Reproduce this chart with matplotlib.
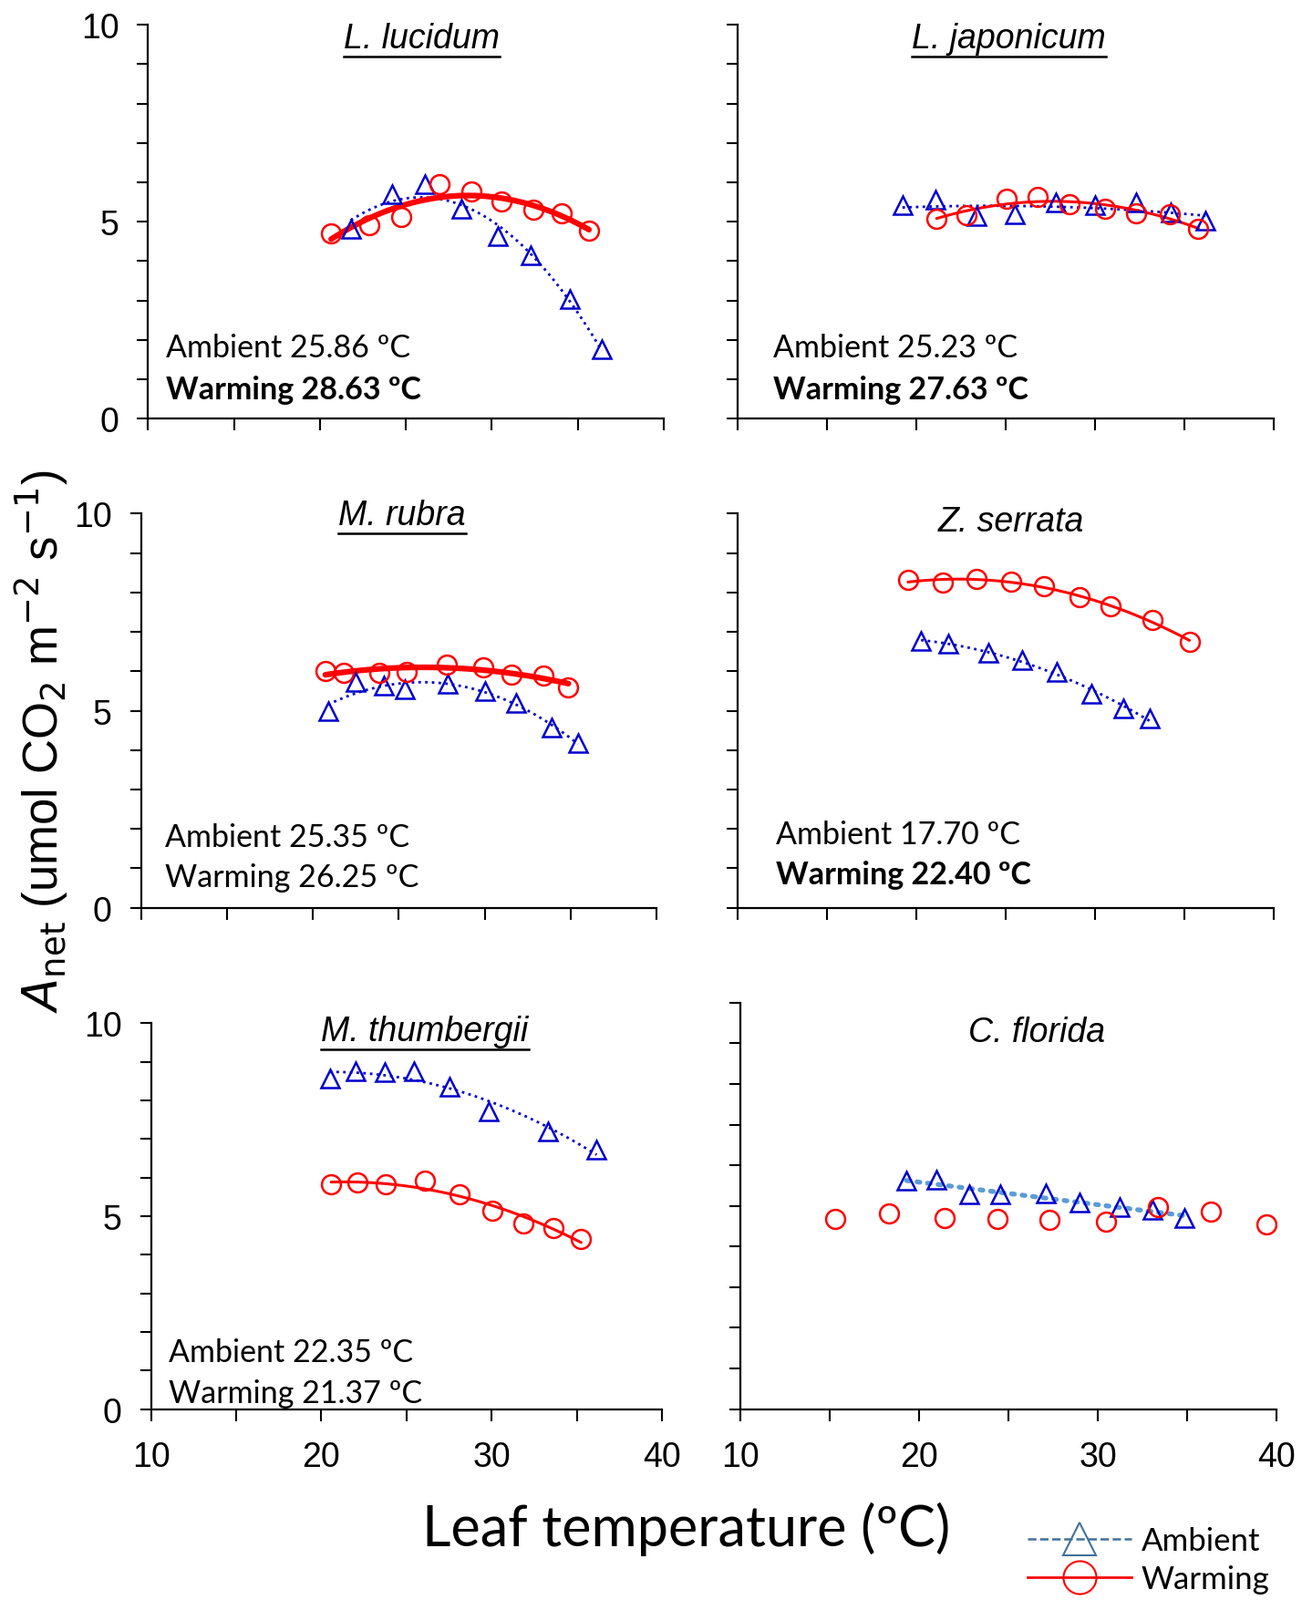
import numpy as np
import matplotlib.pyplot as plt
from matplotlib.lines import Line2D
from matplotlib.ticker import MultipleLocator

# panel names, in reading order
species = ['L. lucidum', 'L. japonicum', 'M. rubra', 'Z. serrata', 'M. thumbergii', 'C. florida']
underlined = [True, True, True, False, True, False]

# ambient (triangles)
amb_t = [
    [21.8, 24.2, 26.1, 28.2, 30.35, 32.25, 34.55, 36.4],
    [19.24, 21.1, 23.4, 25.5, 27.8, 30.0, 32.3, 34.25, 36.2],
    [20.88, 22.49, 24.15, 25.35, 27.86, 30.0, 31.8, 33.87, 35.43],
    [20.28, 21.78, 24.07, 25.93, 27.89, 29.8, 31.59, 33.09],
    [20.49, 22.01, 23.75, 25.42, 27.55, 29.85, 33.29, 36.17],
    [19.3, 20.96, 22.79, 24.54, 27.1, 28.98, 31.2, 33.06, 34.83],
]
amb_a = [
    [4.83, 5.69, 5.96, 5.32, 4.63, 4.15, 3.04, 1.77],
    [5.41, 5.55, 5.15, 5.19, 5.5, 5.41, 5.48, 5.23, 5.02],
    [5.0, 5.72, 5.64, 5.54, 5.68, 5.49, 5.2, 4.58, 4.19],
    [6.78, 6.69, 6.48, 6.28, 5.98, 5.44, 5.06, 4.81],
    [8.57, 8.76, 8.74, 8.76, 8.35, 7.72, 7.2, 6.72],
    [5.61, 5.64, 5.28, 5.28, 5.31, 5.09, 4.96, 4.9, 4.7],
]

# warming (circles)
warm_t = [
    [20.65, 22.85, 24.75, 26.95, 28.8, 30.55, 32.4, 34.05, 35.65],
    [21.15, 22.8, 25.05, 26.8, 28.6, 30.6, 32.3, 34.2, 35.8],
    [20.73, 21.78, 23.87, 25.45, 27.81, 29.92, 31.58, 33.42, 34.87],
    [19.55, 21.52, 23.36, 25.3, 27.15, 29.14, 30.87, 33.24, 35.3],
    [20.57, 22.11, 23.78, 26.06, 28.13, 30.05, 31.87, 33.64, 35.26],
    [15.31, 18.34, 21.45, 24.38, 27.32, 30.46, 33.39, 36.31, 39.42],
]
warm_a = [
    [4.71, 4.91, 5.12, 5.96, 5.76, 5.52, 5.30, 5.22, 4.78],
    [5.08, 5.17, 5.58, 5.62, 5.45, 5.32, 5.22, 5.18, 4.82],
    [6.0, 5.96, 5.96, 5.99, 6.18, 6.1, 5.92, 5.9, 5.6],
    [8.31, 8.25, 8.34, 8.28, 8.15, 7.88, 7.65, 7.3, 6.75],
    [5.83, 5.87, 5.83, 5.91, 5.57, 5.14, 4.81, 4.69, 4.41],
    [4.67, 4.82, 4.69, 4.68, 4.65, 4.61, 4.97, 4.86, 4.54],
]

amb_opt = ['Ambient 25.86 ºC', 'Ambient 25.23 ºC', 'Ambient 25.35 ºC',
           'Ambient 17.70 ºC', 'Ambient 22.35 ºC', None]
warm_opt = ['Warming 28.63 ºC', 'Warming 27.63 ºC', 'Warming 26.25 ºC',
            'Warming 22.40 ºC', 'Warming 21.37 ºC', None]
warm_bold = [True, True, False, True, False, False]

warm_fit = [True, True, True, True, True, False]
warm_lw = [4.5, 2.2, 4.5, 2.2, 2.2, 0]

BLUE = '#0000CC'
RED = '#FF0000'
TXT = ['Lato', 'DejaVu Sans']

fig = plt.figure(figsize=(14.28, 17.56), dpi=100)

# axes boxes [left, bottom, width, height]
boxes = [
    [0.1137, 0.7379, 0.3961, 0.2461],
    [0.5663, 0.7379, 0.4118, 0.2461],
    [0.1082, 0.4324, 0.3961, 0.2462],
    [0.5663, 0.4324, 0.4118, 0.2462],
    [0.1161, 0.1193, 0.3922, 0.2410],
    [0.5686, 0.1193, 0.4118, 0.2538],
]
title_pos = [(0.53, 0.966), (0.507, 0.966), (0.507, 0.997),
             (0.51, 0.98), (0.536, 0.98), (0.552, 0.927)]
opt_pos = [(0.034, 0.18, 0.075), (0.067, 0.18, 0.075), (0.047, 0.18, 0.078),
           (0.072, 0.187, 0.085), (0.034, 0.148, 0.042), None]

titles = []
for i in range(6):
    ax = fig.add_axes(boxes[i])
    ax.set_xlim(10, 40)
    ax.set_ylim(0, 10)
    for s in ['top', 'right']:
        ax.spines[s].set_visible(False)
    for s in ['left', 'bottom']:
        ax.spines[s].set_linewidth(1.6)
    ax.xaxis.set_major_locator(MultipleLocator(10))
    ax.xaxis.set_minor_locator(MultipleLocator(5))
    ax.yaxis.set_major_locator(MultipleLocator(5))
    ax.yaxis.set_minor_locator(MultipleLocator(1))
    ax.tick_params(which='both', direction='out', width=1.5, length=9,
                   labelsize=27)
    ax.tick_params(axis='x', pad=16)
    ax.tick_params(axis='y', pad=14)
    if i % 2 == 1:
        ax.tick_params(axis='y', labelleft=False)
    if i < 4:
        ax.tick_params(axis='x', labelbottom=False)
    for lab in ax.get_xticklabels() + ax.get_yticklabels():
        lab.set_family('Liberation Sans')

    ta = np.array(amb_t[i])
    aa = np.array(amb_a[i])
    tw = np.array(warm_t[i])
    aw = np.array(warm_a[i])

    # ambient fit
    p = np.polyfit(ta, aa, 2 if i != 5 else 1)
    xs = np.linspace(ta.min(), ta.max(), 100)
    if i == 5:
        ax.plot(xs, np.polyval(p, xs), color='#5B9BD5', lw=3.8,
                linestyle=(0, (0.6, 1.6)), dash_capstyle='round', zorder=2)
    else:
        ax.plot(xs, np.polyval(p, xs), color=BLUE, lw=2, linestyle=':', zorder=2)
    if warm_fit[i]:
        p = np.polyfit(tw, aw, 2)
        xs = np.linspace(tw.min(), tw.max(), 100)
        ax.plot(xs, np.polyval(p, xs), color=RED, lw=warm_lw[i],
                solid_capstyle='round', zorder=2)

    ax.plot(ta, aa, '^', ms=15, mfc='none', mec=BLUE, mew=1.8, zorder=3)
    ax.plot(tw, aw, 'o', ms=15, mfc='none', mec=RED, mew=1.8, zorder=3)

    tx, ty = title_pos[i]
    t = ax.text(tx, ty, species[i], transform=ax.transAxes, ha='center',
                va='center', fontsize=27, style='italic', family='Liberation Sans')
    titles.append((ax, t, underlined[i]))

    if opt_pos[i] is not None:
        ox, oy1, oy2 = opt_pos[i]
        ax.text(ox, oy1, amb_opt[i], transform=ax.transAxes, ha='left',
                va='center', fontsize=24.5, family=TXT)
        ax.text(ox, oy2, warm_opt[i], transform=ax.transAxes, ha='left',
                va='center', fontsize=24.5, family=TXT,
                fontweight='bold' if warm_bold[i] else 'normal')

# underline some species names
fig.canvas.draw()
r = fig.canvas.get_renderer()
for ax, t, u in titles:
    if not u:
        continue
    bb = t.get_window_extent(renderer=r)
    inv = fig.transFigure.inverted()
    (x0, y0), (x1, _) = inv.transform([(bb.x0, bb.y0 - 2), (bb.x1, bb.y0 - 2)])
    fig.add_artist(Line2D([x0, x1], [y0, y0], color='black', lw=1.8,
                          transform=fig.transFigure))

fig.text(0.032, 0.537, r'$\mathit{A}_{\mathrm{net}}$ (umol CO$_2$ m$^{-2}$ s$^{-1}$)',
         rotation=90, ha='center', va='center', fontsize=38,
         family='Liberation Sans')
fig.text(0.527, 0.045, 'Leaf temperature (ºC)', ha='center', va='center',
         fontsize=44, family=TXT)

handles = [
    Line2D([], [], color='#41719C', lw=1.8, linestyle='--', marker='^', ms=26,
           mfc='none', mec='#41719C', mew=1.5),
    Line2D([], [], color=RED, lw=2, marker='o', ms=26, mfc='none', mec=RED, mew=1.5),
]
fig.legend(handles, ['Ambient', 'Warming'], loc='center', bbox_to_anchor=(0.882, 0.025),
           frameon=False, prop={'family': 'Lato', 'size': 25}, handlelength=3.3,
           labelspacing=0.3, handletextpad=0.3)

fig.savefig('out.png', dpi=100)
